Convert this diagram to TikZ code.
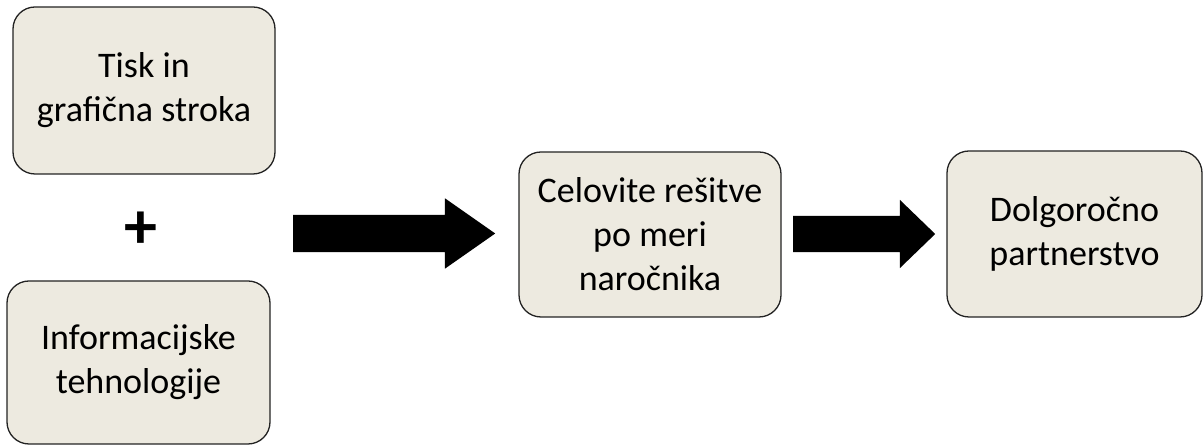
\documentclass[tikz,border=0pt]{standalone}
\usepackage{fontspec}
\setmainfont{Carlito}
\usetikzlibrary{positioning, shapes.arrows}
\definecolor{paper}{RGB}{237,234,224}
\definecolor{rim}{RGB}{35,35,35}

\begin{document}
\begin{tikzpicture}[x=1pt, y=1pt,
    box/.style={rectangle, rounded corners=22pt, draw=rim, line width=1.3pt,
                fill=paper, align=center, inner sep=0pt,
                font=\fontsize{36}{44}\selectfont},
    bigarrow/.style={single arrow, fill=black, draw=none, inner xsep=0pt,
                     single arrow head indent=0pt, anchor=tail},
]
\useasboundingbox (0,0) rectangle (1203,446);

% ─── Two sources ─────────────────────────────────────────────────
\node[box, minimum width=262pt, minimum height=167pt] (tisk) at (144,355.5)
  {Tisk in\\grafična stroka};
\node[box, minimum width=263pt, minimum height=163pt] (info) at (138.5,83.5)
  {Informacijske\\tehnologije};
\node[font=\fontsize{66}{66}\selectfont\bfseries] (plus) at (140.5,216) {+};

% ─── Result chain ────────────────────────────────────────────────
\node[box, minimum width=262pt, minimum height=165pt] (celo) at (650,211.5)
  {Celovite rešitve\\po meri\\naročnika};
\node[box, minimum width=255pt, minimum height=166pt] (dolgo) at (1074.5,212)
  {Dolgoročno\\partnerstvo};

% ─── Block arrows ────────────────────────────────────────────────
\node[bigarrow, inner ysep=18.5pt, minimum height=202pt,
      single arrow head extend=16.5pt, single arrow tip angle=70] (a1) at (293,212.5) {};
\node[bigarrow, inner ysep=18pt, minimum height=142pt,
      single arrow head extend=16pt, single arrow tip angle=88] (a2) at (793,212) {};

\end{tikzpicture}
\end{document}
